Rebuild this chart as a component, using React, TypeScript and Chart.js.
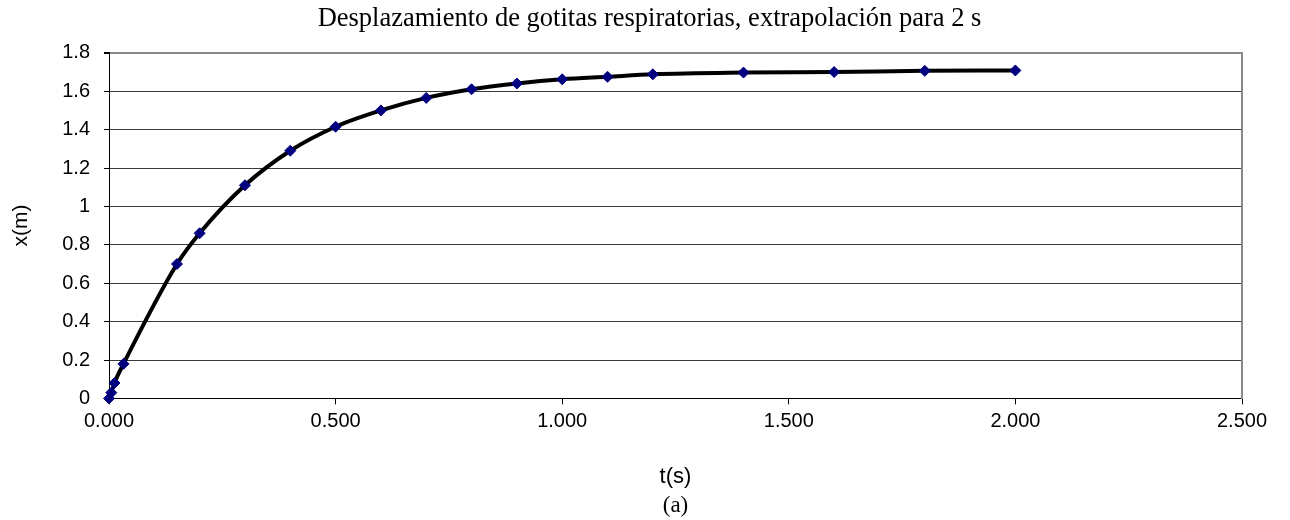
import React, { useEffect, useRef } from "react";
import { Chart, registerables } from "chart.js";

Chart.register(...registerables);

const chartTitle = "Desplazamiento de gotitas respiratorias, extrapolación para 2 s";
const xAxisTitle = "t(s)";
const yAxisTitle = "x(m)";
const captionText = "(a)";

// time (s)
const tValues = [0, 0.005, 0.012, 0.032, 0.15, 0.2, 0.3, 0.4, 0.5, 0.6, 0.7, 0.8, 0.9, 1.0, 1.1, 1.2, 1.4, 1.6, 1.8, 2.0];
// displacement (m)
const xValues = [0, 0.03, 0.08, 0.18, 0.70, 0.86, 1.11, 1.29, 1.415, 1.50, 1.565, 1.61, 1.64, 1.662, 1.675, 1.688, 1.697, 1.70, 1.706, 1.708];

const xTickMin = 0;
const xTickMax = 2.5;
const xTickStep = 0.5;
const yTickMin = 0;
const yTickMax = 1.8;
const yTickStep = 0.2;

export default function App() {
  const canvasRef = useRef<HTMLCanvasElement | null>(null);

  useEffect(() => {
    const canvas = canvasRef.current;
    if (!canvas) return;
    const sans = "'Liberation Sans', Arial, sans-serif";
    const serif = "'Liberation Serif', 'Times New Roman', serif";
    const chart = new Chart(canvas, {
      type: "scatter",
      data: {
        datasets: [
          {
            data: tValues.map((t, i) => ({ x: t, y: xValues[i] })),
            showLine: true,
            borderColor: "#000000",
            borderWidth: 4,
            cubicInterpolationMode: "monotone",
            pointStyle: "rectRot",
            pointRadius: 5.5,
            pointBackgroundColor: "#00007f",
            pointBorderColor: "#00007f",
            pointBorderWidth: 1,
            clip: false,
          } as any,
        ],
      },
      options: {
        responsive: false,
        maintainAspectRatio: false,
        animation: false,
        layout: { padding: { left: 9, right: 0, top: 0, bottom: 0 } },
        plugins: {
          legend: { display: false },
          tooltip: { enabled: false },
          title: {
            display: true,
            text: chartTitle,
            color: "#000",
            font: { family: serif, size: 26.5, weight: "normal" },
            padding: { top: 3, bottom: 18 },
          },
          subtitle: {
            display: true,
            position: "bottom",
            fullSize: false,
            text: captionText,
            color: "#000",
            font: { family: serif, size: 23, weight: "normal" },
            padding: { top: 0, bottom: 0 },
          },
        },
        scales: {
          x: {
            type: "linear",
            min: xTickMin,
            max: xTickMax,
            afterFit: (s: any) => {
              s.height = 94;
            },
            ticks: {
              stepSize: xTickStep,
              color: "#000",
              font: { family: sans, size: 20 },
              padding: 5,
              maxRotation: 0,
              callback: (v: any) => Number(v).toFixed(3),
            },
            grid: {
              drawOnChartArea: false,
              drawTicks: true,
              tickLength: 6,
              tickColor: "#000",
            },
            border: { display: true, color: "#000", width: 1 },
            title: {
              display: true,
              text: xAxisTitle,
              color: "#000",
              font: { family: sans, size: 22 },
              padding: { top: 0, bottom: 2 },
            },
          },
          y: {
            type: "linear",
            min: yTickMin,
            max: yTickMax,
            afterFit: (s: any) => {
              s.width = 100;
            },
            ticks: {
              stepSize: yTickStep,
              color: "#000",
              font: { family: sans, size: 20 },
              padding: 14,
              callback: (v: any) => String(Math.round(Number(v) * 10) / 10),
            },
            grid: {
              color: (ctx: any) => (ctx.tick && ctx.tick.value >= yTickMax - 0.01 ? "#8a8a8a" : "#3a3a3a"),
              lineWidth: (ctx: any) => (ctx.tick && ctx.tick.value >= yTickMax - 0.01 ? 2 : 1),
              tickColor: "#000",
              tickLength: 5,
            },
            border: { display: true, color: "#000", width: 1 },
            title: {
              display: true,
              text: yAxisTitle,
              color: "#000",
              font: { family: sans, size: 21 },
              padding: { top: 0, bottom: 0 },
            },
          },
          y2: {
            type: "linear",
            position: "right",
            display: true,
            min: yTickMin,
            max: yTickMax,
            afterFit: (s: any) => {
              s.width = 48;
            },
            ticks: { display: false },
            grid: { display: false, drawTicks: false },
            border: { display: true, color: "#8a8a8a", width: 2 },
          },
        },
      } as any,
    });
    return () => chart.destroy();
  }, []);

  return (
    <div style={{ position: "fixed", left: 0, top: 0, width: 1290, height: 520, background: "#fff" }}>
      <canvas ref={canvasRef} width={1290} height={520} style={{ display: "block" }} />
    </div>
  );
}
